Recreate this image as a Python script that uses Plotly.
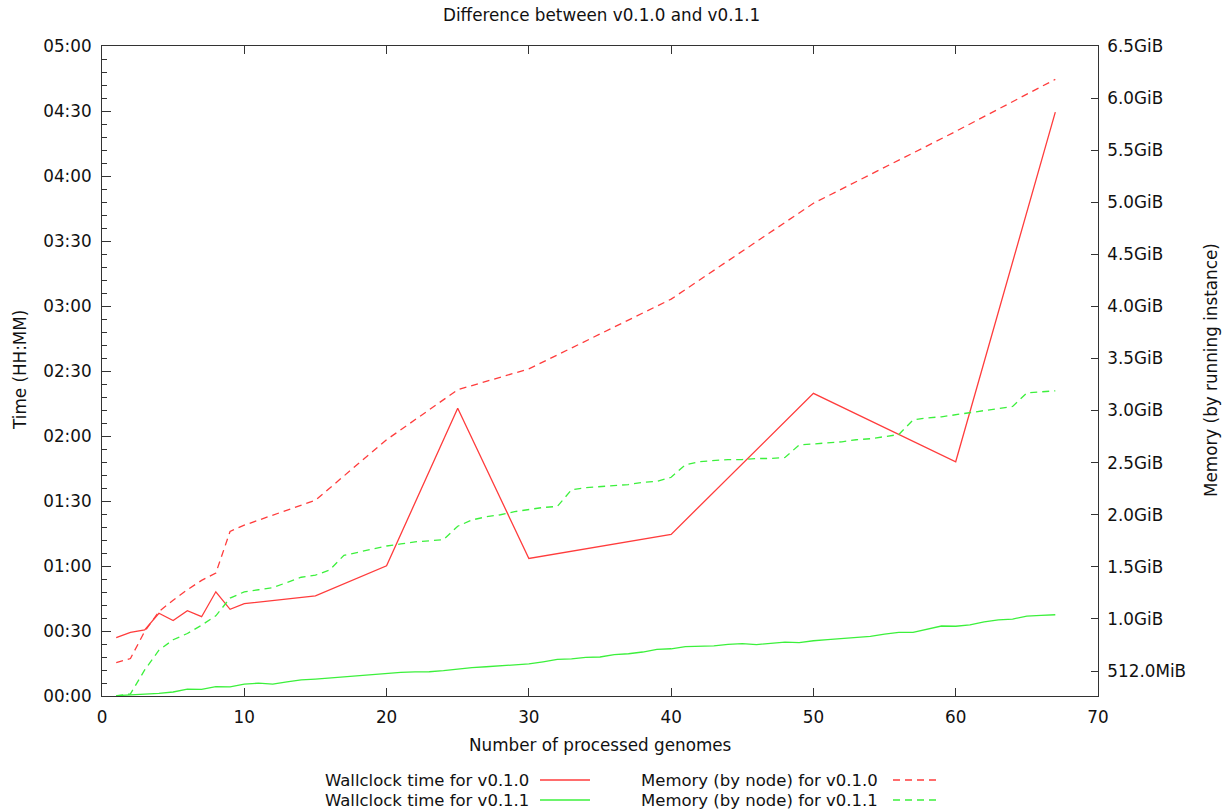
import plotly.graph_objects as go

# ---------------- data ----------------
genomes_v010 = [1, 2, 3, 4, 5, 6, 7, 8, 9, 10, 15, 20, 25, 30, 40, 50, 60, 67]
wallclock_v010_min = [26.9, 29.4, 30.5, 38.2, 34.8, 39.4, 36.6, 48.1, 40.0, 42.6,
                      46.2, 60.1, 132.8, 63.5, 74.6, 139.7, 108.1, 269.5]
memory_v010_gib = [0.58, 0.62, 0.88, 1.07, 1.18, 1.28, 1.37, 1.44, 1.84, 1.90,
                   2.14, 2.72, 3.20, 3.40, 4.07, 4.99, 5.68, 6.18]

genomes_v011 = list(range(1, 68))
wallclock_v011_min = [0.15, 0.46, 0.77, 1.23, 1.85, 3.2, 3.1, 4.3, 4.2, 5.5,
                      5.9, 5.5, 6.5, 7.4, 7.8, 8.3, 8.9, 9.2, 9.7, 10.5,
                      10.9, 11.1, 11.2, 11.7, 12.5, 13.1, 13.5, 14.0, 14.5, 14.8,
                      15.8, 16.9, 17.1, 17.8, 18.0, 19.1, 19.5, 20.3, 21.5, 21.8,
                      22.8, 22.9, 23.1, 23.8, 24.2, 23.7, 24.3, 24.9, 24.6, 25.5,
                      26.0, 26.6, 27.2, 27.5, 28.6, 29.4, 29.4, 30.8, 32.3, 32.2,
                      32.8, 34.2, 35.1, 35.5, 36.9, 37.2, 37.5]
memory_v011_gib = [0.26, 0.28, 0.51, 0.70, 0.80, 0.86, 0.94, 1.03, 1.20, 1.26,
                   1.28, 1.30, 1.35, 1.40, 1.42, 1.47, 1.61, 1.64, 1.67, 1.70,
                   1.72, 1.74, 1.75, 1.76, 1.89, 1.95, 1.98, 2.00, 2.03, 2.05,
                   2.07, 2.08, 2.24, 2.26, 2.27, 2.28, 2.29, 2.31, 2.32, 2.36,
                   2.48, 2.51, 2.52, 2.53, 2.53, 2.54, 2.54, 2.55, 2.67, 2.68,
                   2.69, 2.70, 2.72, 2.73, 2.75, 2.77, 2.91, 2.93, 2.94, 2.96,
                   2.98, 3.00, 3.02, 3.04, 3.17, 3.18, 3.19]

time_tick_vals = [0, 30, 60, 90, 120, 150, 180, 210, 240, 270, 300]
time_tick_text = ["00:00", "00:30", "01:00", "01:30", "02:00", "02:30",
                  "03:00", "03:30", "04:00", "04:30", "05:00"]
mem_tick_vals = [0.5, 1.0, 1.5, 2.0, 2.5, 3.0, 3.5, 4.0, 4.5, 5.0, 5.5, 6.0, 6.5]
mem_tick_text = ["512.0MiB", "1.0GiB", "1.5GiB", "2.0GiB", "2.5GiB", "3.0GiB",
                 "3.5GiB", "4.0GiB", "4.5GiB", "5.0GiB", "5.5GiB", "6.0GiB", "6.5GiB"]

series_names = ["Wallclock time for v0.1.0", "Wallclock time for v0.1.1",
                "Memory (by node) for v0.1.0", "Memory (by node) for v0.1.1"]

# ---------------- style ----------------
RED = "#ff3c3c"
GREEN = "#3cf03c"
DASH = "7px,5px"
FONT = "DejaVu Sans"
FS = 16.8
FS_LEG = 16.5
W, H = 1226, 812
L, R, T, B = 102, 1098, 46, 696

fig = go.Figure()
fig.add_trace(go.Scatter(x=genomes_v010, y=wallclock_v010_min, mode="lines",
                         line=dict(color=RED, width=1.3), name=series_names[0]))
fig.add_trace(go.Scatter(x=genomes_v011, y=wallclock_v011_min, mode="lines",
                         line=dict(color=GREEN, width=1.3), name=series_names[1]))
fig.add_trace(go.Scatter(x=genomes_v010, y=memory_v010_gib, mode="lines", yaxis="y2",
                         line=dict(color=RED, width=1.3, dash=DASH), name=series_names[2]))
fig.add_trace(go.Scatter(x=genomes_v011, y=memory_v011_gib, mode="lines", yaxis="y2",
                         line=dict(color=GREEN, width=1.3, dash=DASH), name=series_names[3]))

axis_col = "#333333"
fig.update_layout(
    width=W, height=H,
    margin=dict(l=L, r=W - R, t=T, b=H - B, pad=0),
    paper_bgcolor="white", plot_bgcolor="white",
    showlegend=False,
    font=dict(family=FONT, size=FS, color="#111111"),
    xaxis=dict(range=[0, 70], tickvals=list(range(0, 71, 10)),
               showline=True, linecolor=axis_col, linewidth=1, mirror="ticks",
               ticks="inside", ticklen=8, tickcolor=axis_col, ticklabelstandoff=6,
               showgrid=False, zeroline=False, tickfont=dict(size=FS)),
    yaxis=dict(range=[0, 300], tickvals=time_tick_vals, ticktext=time_tick_text,
               showline=True, linecolor=axis_col, linewidth=1, mirror=False,
               ticks="inside", ticklen=9, tickcolor=axis_col, ticklabelstandoff=6,
               minor=dict(ticks="inside", ticklen=5, tick0=0, dtick=6, tickcolor=axis_col, showgrid=False),
               showgrid=False, zeroline=False, tickfont=dict(size=FS)),
    yaxis2=dict(range=[0.26, 6.5], tickvals=mem_tick_vals, ticktext=mem_tick_text,
                overlaying="y", side="right",
                showline=True, linecolor=axis_col, linewidth=1,
                ticks="inside", ticklen=7, tickcolor=axis_col, ticklabelstandoff=5,
                showgrid=False, zeroline=False, tickfont=dict(size=FS)),
)

def px_x(px):
    return (px - L) / (R - L)

def px_y(py):
    return (B - py) / (B - T)

annotations = [
    dict(text="Difference between v0.1.0 and v0.1.1", x=px_x(601), y=px_y(15),
         font=dict(size=16.8)),
    dict(text="Number of processed genomes", x=px_x(600), y=px_y(745),
         font=dict(size=FS)),
    dict(text="Time (HH:MM)", x=px_x(20), y=px_y(370), textangle=-90,
         font=dict(size=FS)),
    dict(text="Memory (by running instance)", x=px_x(1211), y=px_y(370), textangle=-90,
         font=dict(size=FS)),
]
shapes = []
legend_rows = [(series_names[0], 531, 540, 590, 780, RED, "solid"),
               (series_names[1], 531, 540, 590, 800, GREEN, "solid"),
               (series_names[2], 880, 893, 938, 780, RED, DASH),
               (series_names[3], 880, 893, 938, 800, GREEN, DASH)]
for name, tx, x0, x1, yy, col, dash in legend_rows:
    annotations.append(dict(text=name, x=px_x(tx), y=px_y(yy), xanchor="right",
                            font=dict(size=FS_LEG)))
    shapes.append(dict(type="line", xref="paper", yref="paper",
                       x0=px_x(x0), x1=px_x(x1), y0=px_y(yy), y1=px_y(yy),
                       line=dict(color=col, width=1.3, dash=dash)))
for a in annotations:
    a.setdefault("xref", "paper")
    a.setdefault("yref", "paper")
    a.setdefault("showarrow", False)
    a.setdefault("xanchor", "center")
    a.setdefault("yanchor", "middle")
fig.update_layout(annotations=annotations, shapes=shapes)

fig.write_html("out.html")
